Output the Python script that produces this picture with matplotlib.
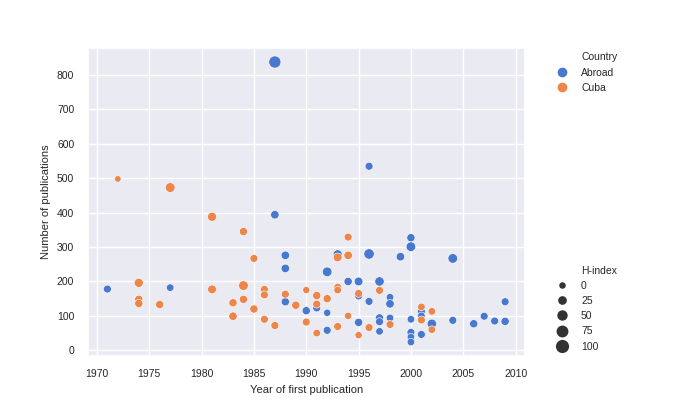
import matplotlib
matplotlib.use("Agg")
import matplotlib.pyplot as plt
from matplotlib.lines import Line2D
import numpy as np
import pandas as pd
import seaborn as sns

# values
abroad_year = [1971, 1977, 1987, 1987, 1988, 1988, 1988, 1990, 1991, 1992, 1992, 1992,
               1993, 1994, 1995, 1995, 1995, 1996, 1996, 1996, 1997, 1997, 1997, 1997,
               1998, 1998, 1998, 1999, 2000, 2000, 2000, 2000, 2000, 2000, 2001, 2001,
               2001, 2002, 2004, 2004, 2006, 2007, 2008, 2009, 2009]
abroad_pubs = [178, 182, 838, 394, 276, 238, 141, 115, 123, 228, 109, 58,
               279, 200, 200, 158, 81, 535, 280, 142, 200, 94, 83, 55,
               154, 135, 94, 272, 327, 301, 90, 52, 38, 24, 113, 100,
               46, 77, 267, 87, 77, 99, 85, 141, 84]
abroad_h = [15, 11, 80, 22, 22, 22, 19, 19, 15, 38, 8, 15,
            30, 19, 26, 15, 19, 15, 50, 15, 34, 19, 15, 11,
            11, 22, 11, 22, 19, 38, 11, 15, 11, 11, 15, 11,
            15, 34, 38, 15, 19, 15, 15, 15, 19]

cuba_year = [1972, 1974, 1974, 1974, 1976, 1977, 1981, 1981, 1983, 1983, 1984, 1984,
             1984, 1985, 1985, 1986, 1986, 1986, 1987, 1988, 1989, 1990, 1990, 1991,
             1991, 1991, 1992, 1993, 1993, 1993, 1993, 1994, 1994, 1994, 1995, 1995,
             1996, 1997, 1998, 2001, 2001, 2002, 2002]
cuba_pubs = [498, 196, 148, 136, 133, 473, 388, 177, 138, 99, 345, 188,
             148, 267, 120, 177, 161, 90, 72, 163, 131, 175, 82, 159,
             134, 50, 150, 270, 183, 175, 69, 329, 276, 100, 165, 44,
             66, 174, 75, 126, 88, 113, 60]
cuba_h = [0, 30, 19, 19, 19, 40, 30, 26, 19, 22, 19, 38,
          19, 15, 19, 15, 15, 15, 15, 15, 19, 6, 15, 19,
          15, 11, 19, 26, 15, 11, 15, 15, 22, 8, 15, 8,
          15, 15, 15, 11, 15, 11, 11]

h_ticks = [0, 25, 50, 75, 100]
countries = ["Abroad", "Cuba"]

df = pd.DataFrame({
    "year": abroad_year + cuba_year,
    "pubs": abroad_pubs + cuba_pubs,
    "h": abroad_h + cuba_h,
    "country": ["Abroad"] * len(abroad_year) + ["Cuba"] * len(cuba_year),
})

sns.set_theme(style="darkgrid")
plt.rcParams["font.family"] = ["Liberation Sans", "DejaVu Sans"]

size_range = (22, 90)
pal = sns.color_palette("muted")[:2]

fig, ax = plt.subplots(figsize=(7, 4), dpi=100)
fig.subplots_adjust(right=0.75)
sns.scatterplot(data=df, x="year", y="pubs", hue="country", size="h",
                hue_order=countries, palette=pal, sizes=size_range,
                size_norm=(0, 100), legend=False, ax=ax)

ax.set_xlabel("Year of first publication", fontsize=8)
ax.set_ylabel("Number of publications", fontsize=8)
ax.tick_params(labelsize=7.5)

def msize(h):
    s = size_range[0] + (size_range[1] - size_range[0]) * h / 100
    return np.sqrt(s)

blank = Line2D([], [], linestyle="none", marker="")
hue_handles = [blank] + [Line2D([], [], linestyle="none", marker="o", markersize=7,
                                color=c, markeredgewidth=0) for c in pal]
leg1 = ax.legend(hue_handles, ["Country"] + countries, loc="upper left",
                 bbox_to_anchor=(1.04, 1.016), frameon=False, fontsize=7.5)
ax.add_artist(leg1)

size_handles = [blank] + [Line2D([], [], linestyle="none", marker="o", markersize=msize(h),
                                 color=".2", markeredgewidth=0) for h in h_ticks]
ax.legend(size_handles, ["H-index"] + [str(h) for h in h_ticks], loc="lower left",
          bbox_to_anchor=(1.04, -0.016), frameon=False, fontsize=7.5)

fig.savefig("out.png", dpi=100)
